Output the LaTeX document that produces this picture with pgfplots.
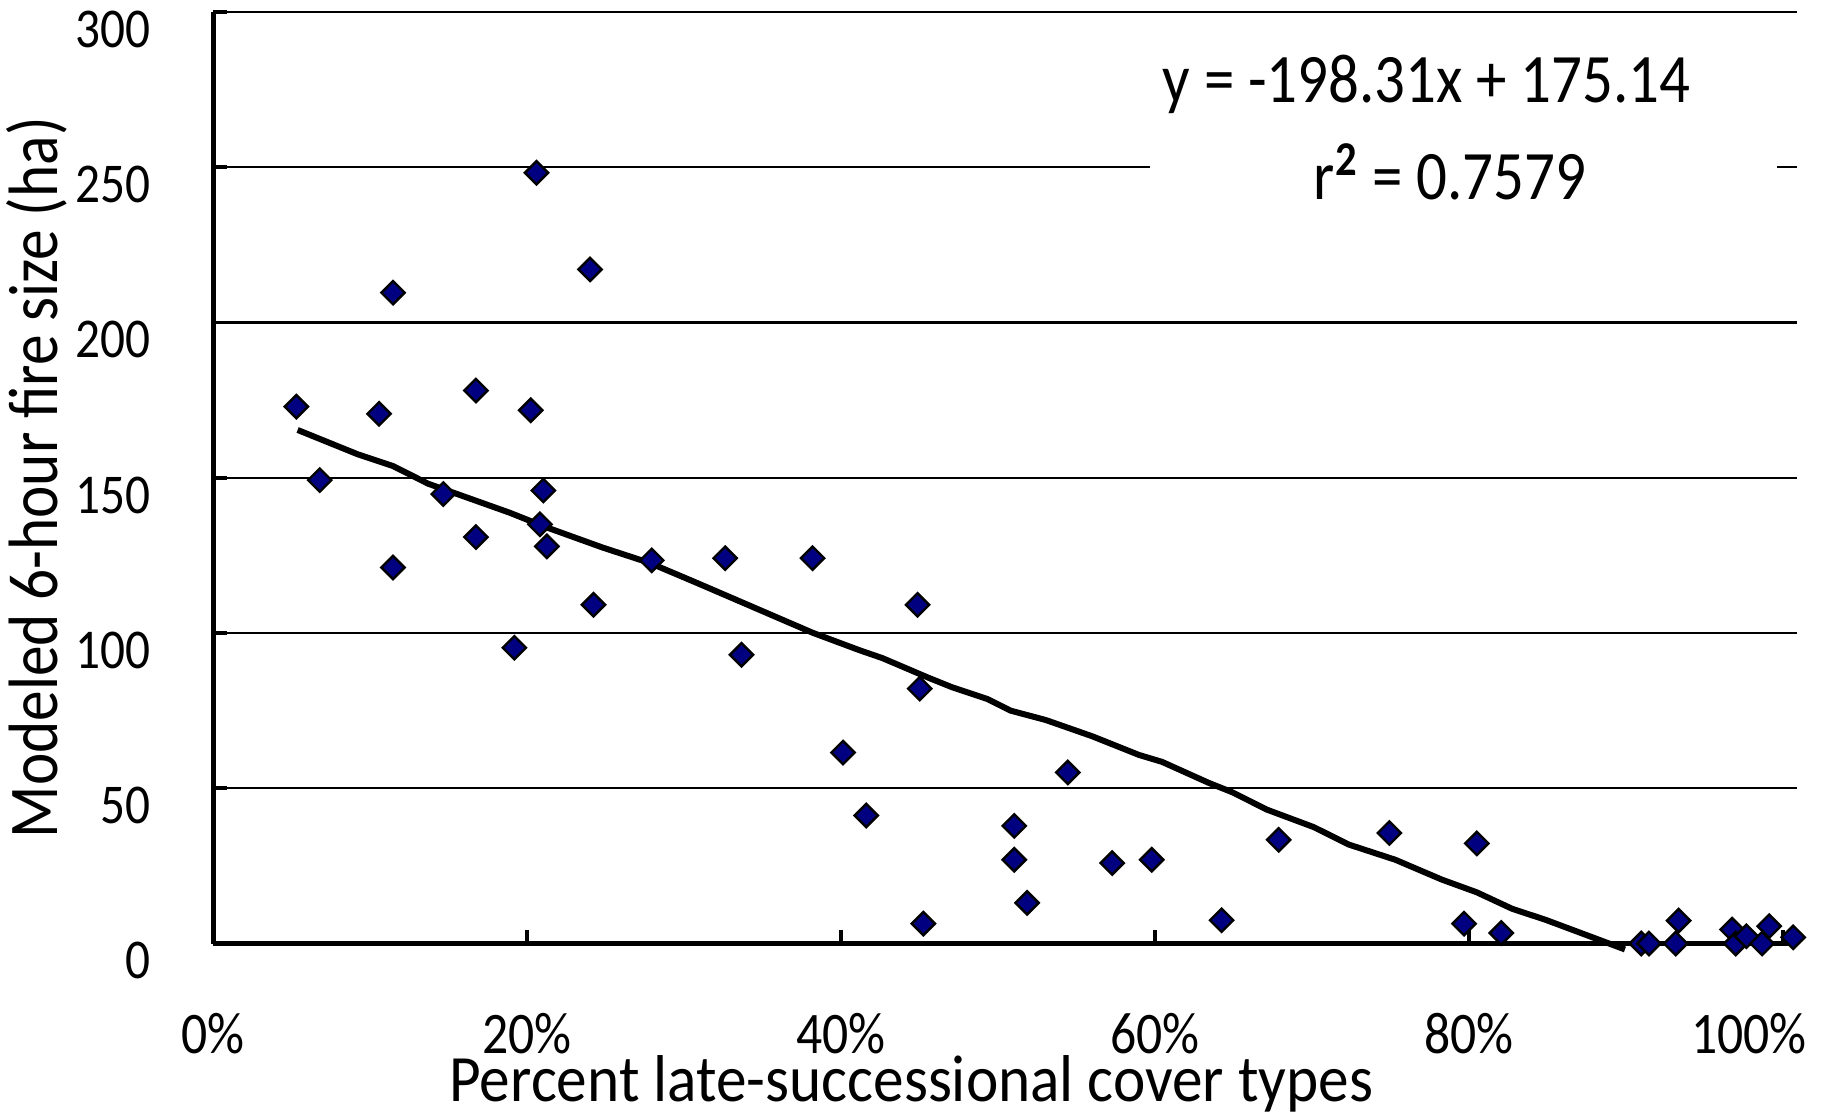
\documentclass[border=0pt]{standalone}
\usepackage{pgfplots}
\pgfplotsset{compat=1.18}
\usepackage{fontspec}
\usepackage{graphicx}
\setmainfont{Carlito}
\definecolor{navyfill}{RGB}{0,0,128}
\newcommand{\vs}[1]{\scalebox{1}[1.14]{#1}}
\begin{document}
\begin{tikzpicture}
\begin{axis}[
  name=ax,
  scale only axis,
  width=395.25pt, height=232.5pt,
  xmin=0, xmax=100.9, ymin=0, ymax=300,
  axis x line=bottom, axis y line=left,
  axis line style={-, line width=1.15pt, black},
  ytick={0,50,...,300},
  yticklabel={\vs{\pgfmathprintnumber{\tick}}},
  xtick={0,20,...,100},
  xticklabels={\vs{0\%},\vs{20\%},\vs{40\%},\vs{60\%},\vs{80\%},{\hbox{\vs{100\%}\kern17pt}}},
  ymajorgrids,
  grid style={line width=0.6pt, black},
  tick align=inside,
  major tick length=3.3pt,
  tick style={line width=0.9pt, black},
  clip=false,
  /pgf/number format/assume math mode=true,
  yticklabel style={font=\fontsize{12.3pt}{14pt}\selectfont, anchor=east, inner sep=0pt, xshift=-15.5pt, yshift=-4.3pt},
  xticklabel style={font=\fontsize{12.9pt}{15pt}\selectfont, anchor=center, inner sep=0pt, yshift=-22.6pt},
  xlabel={\scalebox{1}[1.08]{Percent late-successional cover types}},
  ylabel={\vs{Modeled 6-hour fire size (ha)}},
  label style={font=\fontsize{15.3pt}{18pt}\selectfont},
  xlabel style={at={(axis description cs:0.4407,0)}, anchor=center, inner sep=0pt, yshift=-35pt},
  ylabel style={at={(axis description cs:0,0.5)}, anchor=center, yshift=44pt},
]
\fill[white] (axis cs:59.7,229) rectangle (axis cs:99.6,294);
\node[font=\fontsize{15.2pt}{18pt}\selectfont] at (axis cs:77.3,276.8) {\vs{y = -198.31x + 175.14}};
\node[font=\fontsize{15.2pt}{18pt}\selectfont] at (axis cs:78.8,248.4) {\vs{r\textsuperscript{\textbf{2}} = 0.7579}};
\addplot[line width=1.5pt, black, no marks] coordinates {
(5.37,165.4) (9.23,157.5) (11.46,153.75) (13.68,148.1) (18.88,138.75)
(21.11,134.25) (24.82,127.5) (27.79,122.6) (30.76,116.25) (32.99,111.4)
(38.18,100.1) (41.15,94.5) (42.64,91.9) (45.61,85.5) (47.09,82.5)
(49.32,78.75) (50.80,75) (53.03,72) (56.0,66.75) (58.97,60.75)
(60.45,58.5) (63.42,51.75) (64.91,48.75) (67.14,43.1) (70.11,37.5)
(72.33,31.9) (75.3,27) (78.27,20.6) (80.5,16.5) (82.73,11.25)
(84.96,7.5) (89.94,-1.9)
};
\addplot[only marks, mark=square*, mark size=2.05pt,
  mark options={rotate=45, fill=navyfill, draw=black, line width=0.6pt}] coordinates {
(5.29,172.9) (6.78,149.25) (10.56,170.6) (11.45,209.6) (11.45,121.1)
(14.65,144.75) (16.73,178.1) (16.73,130.9) (19.18,95.25) (20.22,171.75)
(20.59,248.25) (21.03,145.9) (20.81,135) (21.25,127.9) (24.0,217.1)
(24.22,109.1) (27.93,123.4) (32.61,124.1) (33.65,93) (38.18,124.1)
(40.12,61.5) (41.6,41.25) (44.87,109.1) (45.01,82.1) (45.24,6.4)
(51.03,37.9) (51.03,27) (51.85,13.1) (54.44,55.1) (57.27,25.9)
(59.79,27) (64.24,7.5) (67.88,33.4) (74.93,35.6) (80.5,32.25)
(79.69,6.4) (82.06,3.4) (90.98,0) (91.47,0) (93.17,0)
(93.36,7.4) (96.77,4.5) (97.0,0) (97.68,2.35) (98.68,0)
(99.13,5.6) (100.66,2.0)
};
\end{axis}
\pgfresetboundingbox
\path ([xshift=-53.25pt,yshift=-42pt]ax.south west) rectangle ([xshift=6.75pt,yshift=3pt]ax.north east);
\end{tikzpicture}
\end{document}
